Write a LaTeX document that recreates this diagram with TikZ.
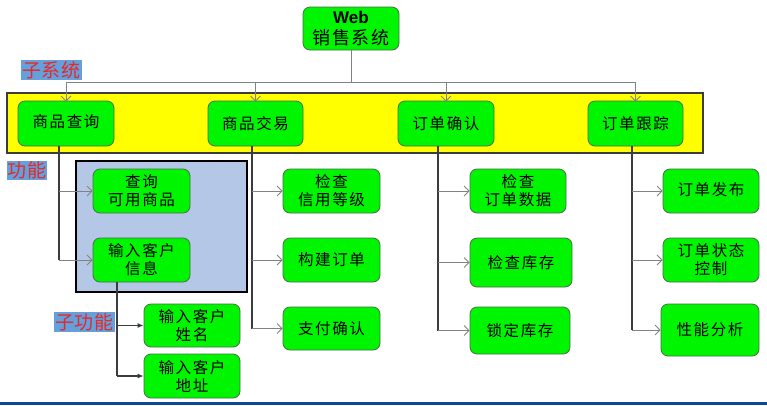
\documentclass[tikz,border=0pt]{standalone}
\usepackage{fontspec}
\setmainfont{Liberation Sans}
\newfontfamily\cjk[LetterSpace=10]{Noto Sans CJK SC}
\newfontfamily\cjklbl[LetterSpace=4]{Noto Sans CJK SC}
\usetikzlibrary{arrows.meta}
\definecolor{boxgreen}{RGB}{0,245,0}
\definecolor{boxedge}{RGB}{70,110,70}
\definecolor{ybox}{RGB}{255,255,0}
\definecolor{funcbg}{RGB}{180,199,231}
\definecolor{lblbg}{RGB}{100,160,220}
\definecolor{lblred}{RGB}{230,40,40}
\definecolor{glines}{RGB}{130,130,130}
\definecolor{tlines}{RGB}{60,60,60}
\definecolor{barblue}{RGB}{10,72,152}
\tikzset{
  box/.style={draw=boxedge, line width=0.8pt, fill=boxgreen, rounded corners=7pt,
    align=center, inner sep=0pt, font=\cjk\fontsize{15.5}{18}\selectfont},
  lbl/.style={fill=lblbg, text=lblred, inner sep=1pt, font=\cjklbl\fontsize{19}{20}\selectfont},
  gline/.style={draw=glines, line width=0.8pt},
  garrow/.style={gline, -{Straight Barb[length=5pt,width=10pt,line width=0.8pt]}},
  trunk/.style={draw=tlines, line width=1.4pt},
  barrow/.style={draw=tlines, line width=1.2pt, -{Latex[length=6pt,width=5pt]}},
}
\begin{document}
\begin{tikzpicture}[x=1pt,y=-1pt]
\useasboundingbox (0,0) rectangle (767,405);
\fill[white] (0,0) rectangle (767,405);
\fill[barblue] (0,402) rectangle (767,405);
% containers
\draw[fill=ybox, draw=tlines, line width=1.2pt] (7,93) rectangle (703,153);
\draw[fill=funcbg, draw=black, line width=1.2pt] (76,161) rectangle (247,292);
% top node
\node[box, minimum width=96, minimum height=43, font=\cjk\fontsize{18}{20}\selectfont] (web) at (351,28.5)
  {{\rmfamily\bfseries\fontsize{17}{20}\selectfont Web}\\[1pt]销售系统};
% level 1
\node[box, minimum width=96, minimum height=45] (s1) at (66,123.5) {\raisebox{5pt}{商品查询}};
\node[box, minimum width=95, minimum height=45] (s2) at (255.5,123.5) {商品交易};
\node[box, minimum width=96, minimum height=45] (s3) at (446,123.5) {订单确认};
\node[box, minimum width=95, minimum height=45] (s4) at (635.5,123.5) {\raisebox{2pt}{订单跟踪}};
% level 2
\node[box, minimum width=97, minimum height=44] (f1) at (141.5,191) {查询\\可用商品};
\node[box, minimum width=97, minimum height=44] (f2) at (141.5,260) {输入客户\\信息};
\node[box, minimum width=96, minimum height=43] (sf1) at (192,325.5) {输入客户\\姓名};
\node[box, minimum width=96, minimum height=44] (sf2) at (192,376) {输入客户\\地址};
\node[box, minimum width=97, minimum height=44] (c1) at (331.5,191) {检查\\信用等级};
\node[box, minimum width=97, minimum height=44] (c2) at (331.5,260) {构建订单};
\node[box, minimum width=97, minimum height=43] (c3) at (331.5,328.5) {支付确认};
\node[box, minimum width=96, minimum height=44] (d1) at (518,191) {检查\\订单数据};
\node[box, minimum width=102, minimum height=49] (d2) at (521,262.5) {检查库存};
\node[box, minimum width=100, minimum height=47] (d3) at (520,330.5) {锁定库存};
\node[box, minimum width=96, minimum height=44] (e1) at (711,191) {\raisebox{5pt}{订单发布}};
\node[box, minimum width=96, minimum height=44] (e2) at (711,260) {订单状态\\控制};
\node[box, minimum width=98, minimum height=52] (e3) at (710,330) {性能分析};
% labels
\node[lbl] (L1) at (51.5,70) {子系统};
\node[lbl] (L2) at (27,170.5) {功能};
\node[lbl] (L3) at (84.5,322) {子功能};
% top tree
\coordinate (hub) at (351,82);
\draw[gline] (web.south) -- (hub);
\foreach \n in {s1,s2,s3,s4} \draw[garrow] (hub) -| ([yshift=-1]\n.north);
% trunks
\coordinate (t1) at ([xshift=-7]s1.south);
\coordinate (t2) at ([xshift=-3.5]s2.south);
\coordinate (t3) at ([xshift=-8]s3.south);
\coordinate (t4) at ([xshift=-3.5]s4.south);
\draw[trunk] (t1) -- (t1 |- f2.west);
\draw[garrow] (t1 |- f1.west) -- (f1.west);
\draw[garrow] (t1 |- f2.west) -- (f2.west);
\draw[trunk] (t2) -- (t2 |- c3.west);
\foreach \n in {c1,c2,c3} \draw[garrow] (t2 |- \n.west) -- (\n.west);
\draw[trunk] (t3) -- (t3 |- d3.west);
\foreach \n in {d1,d2,d3} \draw[garrow] (t3 |- \n.west) -- (\n.west);
\draw[trunk] (t4) -- (t4 |- e3.west);
\foreach \n in {e1,e2,e3} \draw[garrow] (t4 |- \n.west) -- (\n.west);
% sub-function
\coordinate (t5) at ([xshift=-24.5]f2.south);
\draw[trunk] (t5) -- (t5 |- sf2.west);
\draw[barrow] (t5 |- sf1.west) -- (sf1.west);
\draw[barrow] (t5 |- sf2.west) -- (sf2.west);
\end{tikzpicture}
\end{document}
